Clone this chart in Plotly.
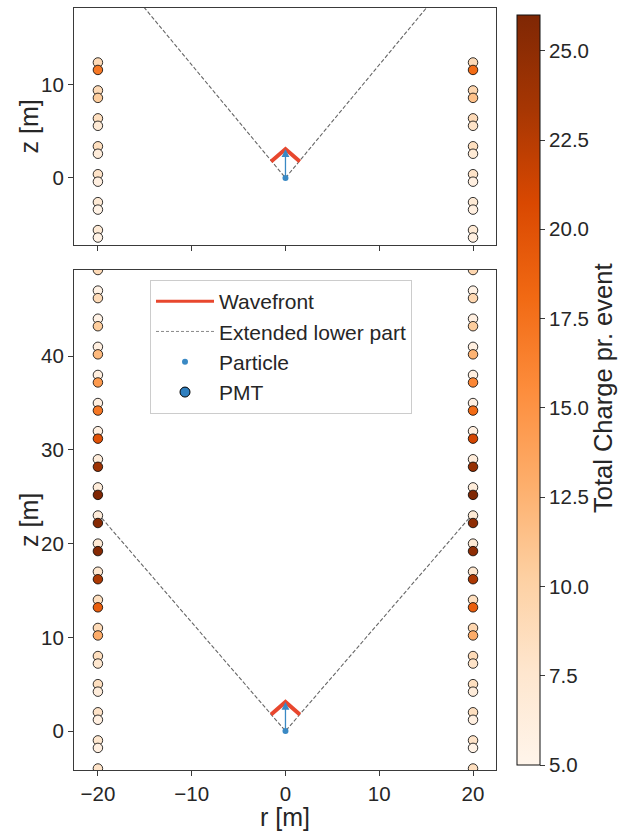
import plotly.graph_objects as go
from plotly.subplots import make_subplots

# ---------------- data ----------------
pmt_r_left = -20
pmt_r_right = 20

top_z = [12.4, 11.6, 9.4, 8.6, 6.4, 5.6, 3.4, 2.6, 0.4, -0.4, -2.6, -3.4, -5.6, -6.4]
top_q_left = [9, 17, 9, 10.5, 8.5, 7, 8.5, 6.5, 8, 6, 7, 5.5, 7, 5.5]
top_q_right = [9, 18, 9.5, 11.5, 9, 8, 8.5, 7, 8, 6, 7, 6, 7, 6]

bot_z = [50.0, 49.2, 47.0, 46.2, 44.0, 43.2, 41.0, 40.2, 38.0, 37.2, 35.0, 34.2,
         32.0, 31.2, 29.0, 28.2, 26.0, 25.2, 23.0, 22.2, 20.0, 19.2, 17.0, 16.2,
         14.0, 13.2, 11.0, 10.2, 8.0, 7.2, 5.0, 4.2, 2.0, 1.2, -1.0, -1.8, -4.0, -4.8]
bot_q_left = [6, 9, 5.5, 9, 5.5, 10.5, 6, 12, 6, 14.5, 6, 17, 6, 20, 6.5, 24, 6.5, 26,
              6.5, 25.5, 7, 25.5, 7.5, 23, 8.5, 19, 9, 13, 8.5, 7.5, 8.5, 6.5, 8, 6,
              7.5, 6, 8, 6]
bot_q_right = [6, 9.5, 5.5, 9.5, 6, 10.5, 6, 12.5, 6, 16, 6, 18, 6, 21, 6.5, 24.5, 6.5, 26,
               7, 25, 7, 25, 7.5, 23, 8.5, 19, 9.5, 13, 9, 8, 8.5, 6.5, 8.5, 6,
               8, 5.5, 8.5, 6]

particle_r = [0]
particle_z = [0]
particle_tip_z = 3.1

wave_r = [-1.53, 0, 1.53]
wave_z = [1.77, 3.1, 1.77]

cone_r = [-20, 0, 20]
cone_top_z = [24.3, 0, 24.3]
cone_bot_z = [23.2, 0, 23.2]

cb_ticks = [5.0, 7.5, 10.0, 12.5, 15.0, 17.5, 20.0, 22.5, 25.0]
charge_min, charge_max = 5, 26

# ---------------- styles ----------------
TXT = "#262626"
FONT = "Liberation Sans, Arial, sans-serif"
WAVE_C = "#e8472e"
BLUE = "#3a89c4"
AX = "#3a3a3a"
DASH_C = "#666666"

fig = make_subplots(rows=2, cols=1, shared_xaxes=True, vertical_spacing=0.0)

W, H = 619, 831
L, R, T, B = 74, 496, 8, 770
PW, PH = R - L, B - T
top_dom = [(B - 245) / PH, 1.0]
bot_dom = [0.0, (B - 270) / PH]


def add_panel(row, zvals, cone_z, qleft, qright):
    fig.add_trace(go.Scatter(x=cone_r, y=cone_z, mode="lines",
                             line=dict(color=DASH_C, width=1.1, dash="4px,2px"),
                             name="Extended lower part", showlegend=False,
                             hoverinfo="skip"), row=row, col=1)
    fig.add_trace(go.Scatter(x=wave_r, y=wave_z, mode="lines",
                             line=dict(color=WAVE_C, width=4),
                             name="Wavefront", showlegend=False), row=row, col=1)
    fig.add_trace(go.Scatter(x=[0, 0], y=[0, particle_tip_z - 0.5], mode="lines",
                             line=dict(color=BLUE, width=1.3), showlegend=False,
                             hoverinfo="skip"), row=row, col=1)
    fig.add_trace(go.Scatter(x=particle_r, y=particle_z, mode="markers",
                             marker=dict(color=BLUE, size=6),
                             name="Particle", showlegend=False), row=row, col=1)
    for rr, qq in ((pmt_r_left, qleft), (pmt_r_right, qright)):
        fig.add_trace(go.Scatter(x=[rr] * len(zvals), y=zvals, mode="markers",
                                 marker=dict(color=qq, coloraxis="coloraxis", size=9.5,
                                             line=dict(color="black", width=0.8)),
                                 showlegend=False, name="PMT"), row=row, col=1)


add_panel(1, top_z, cone_top_z, top_q_left, top_q_right)
add_panel(2, bot_z, cone_bot_z, bot_q_left, bot_q_right)

for xr, yr in (("x", "y"), ("x2", "y2")):
    fig.add_annotation(x=0, y=particle_tip_z, ax=0, ay=particle_tip_z - 0.9,
                       xref=xr, yref=yr, axref=xr, ayref=yr, showarrow=True,
                       arrowhead=2, arrowsize=1.2, arrowwidth=1.3, arrowcolor=BLUE, text="")

# legend entries
fig.add_trace(go.Scatter(x=[None], y=[None], mode="lines",
                         line=dict(color=WAVE_C, width=3), name="Wavefront"), row=2, col=1)
fig.add_trace(go.Scatter(x=[None], y=[None], mode="lines",
                         line=dict(color="#888888", width=1, dash="3px,2px"),
                         name="Extended lower part"), row=2, col=1)
fig.add_trace(go.Scatter(x=[None], y=[None], mode="markers",
                         marker=dict(color=BLUE, size=6), name="Particle"), row=2, col=1)
fig.add_trace(go.Scatter(x=[None], y=[None], mode="markers",
                         marker=dict(color="#2f7fbf", size=10, line=dict(color="black", width=1)),
                         name="PMT"), row=2, col=1)

TICKF = dict(size=20.5, color=TXT)
TITLEF = dict(size=25, color=TXT)

axis_common = dict(showgrid=False, zeroline=False, showline=True, linecolor=AX,
                   linewidth=1.2, mirror=True, ticks="outside", ticklen=5,
                   tickcolor=AX, tickwidth=1.2, tickfont=TICKF)

fig.update_xaxes(**axis_common, range=[-22.55, 22.45], tickvals=[-20, -10, 0, 10, 20])
fig.update_xaxes(showticklabels=False, row=1, col=1)
fig.update_xaxes(title=dict(text="r [m]", font=TITLEF, standoff=2),
                 ticktext=["\u221220", "\u221210", "0", "10", "20"], row=2, col=1)
fig.update_yaxes(**axis_common)
fig.update_yaxes(range=[-7.2, 18.25], tickvals=[0, 10], domain=top_dom, row=1, col=1)
fig.update_yaxes(range=[-4.16, 49.2], tickvals=[0, 10, 20, 30, 40], domain=bot_dom,
                 row=2, col=1)

# y titles as annotations (exact placement)
for yc in ((8 + 245) / 2, (270 + 770) / 2):
    fig.add_annotation(text="z [m]", xref="paper", yref="paper",
                       x=(29 - L) / PW, y=(B - yc) / PH, showarrow=False,
                       textangle=-90, font=TITLEF, xanchor="center", yanchor="middle")

# colorbar title as rotated annotation
fig.add_annotation(text="Total Charge pr. event", xref="paper", yref="paper",
                   x=(603 - L) / PW, y=(B - 389) / PH, showarrow=False,
                   textangle=-90, font=dict(size=25.5, color=TXT),
                   xanchor="center", yanchor="middle")

fig.update_layout(
    width=W, height=H,
    margin=dict(l=L, r=W - R, t=T, b=H - B, autoexpand=False),
    paper_bgcolor="white", plot_bgcolor="white",
    font=dict(family=FONT, color=TXT),
    coloraxis=dict(
        cmin=charge_min, cmax=charge_max, colorscale="Oranges",
        colorbar=dict(
            x=(517 - L) / PW, xanchor="left", xpad=0, ypad=0,
            y=(B - 765) / PH, yanchor="bottom", len=750 / PH, lenmode="fraction",
            thickness=23, outlinecolor="#111111", outlinewidth=1,
            tickvals=cb_ticks, ticktext=[f"{v:.1f}" for v in cb_ticks],
            ticks="outside", ticklen=5, tickcolor=AX,
            tickfont=TICKF,
        ),
    ),
    legend=dict(x=(150 - L) / PW, y=(B - 280) / PH, xanchor="left", yanchor="top",
                bgcolor="rgba(255,255,255,0.85)", bordercolor="#cccccc", borderwidth=1,
                font=dict(size=21, color=TXT), tracegroupgap=0, itemwidth=58),
    showlegend=True,
)

fig.write_html("out.html", config={"displayModeBar": False},
               post_script="document.body.style.margin='0px';")
